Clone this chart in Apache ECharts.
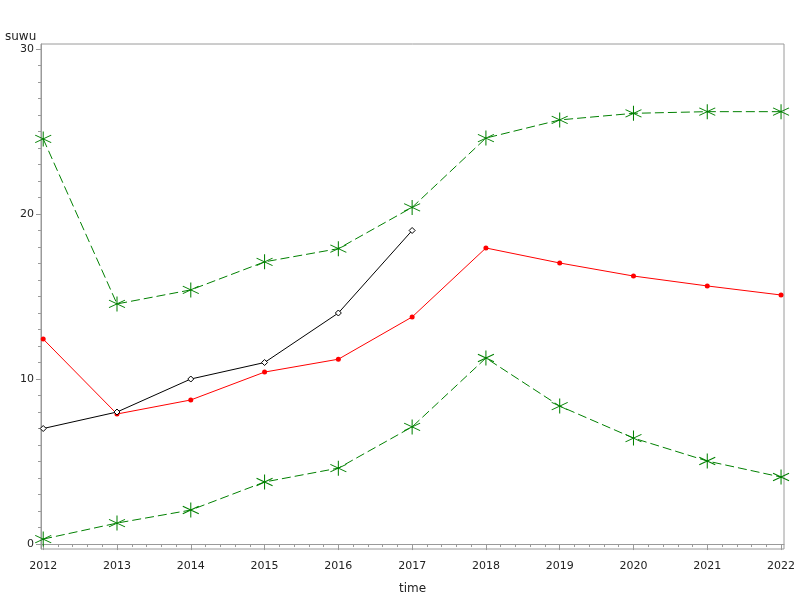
<!DOCTYPE html>
<html><head><meta charset="utf-8">
<script src="https://cdn.jsdelivr.net/npm/echarts@6/dist/echarts.min.js"></script>
<style>html,body{margin:0;padding:0;background:#fff}#c{width:800px;height:600px}</style>
</head><body><div id="c"></div>
<script>
var years = [2012,2013,2014,2015,2016,2017,2018,2019,2020,2021,2022];
var upperBand = [24.55,14.55,15.4,17.1,17.9,20.4,24.6,25.7,26.1,26.2,26.2];
var lowerBand = [0.3,1.27,2.06,3.76,4.6,7.1,11.27,8.36,6.42,5.03,4.06];
var forecast = [12.42,7.88,8.73,10.42,11.2,13.76,17.94,17.03,16.24,15.64,15.09];
var actualYears = [2012,2013,2014,2015,2016,2017];
var actual = [7,8,10,11,14,19];
var yTicks = [0,10,20,30];

function pairs(xs, ys){ return xs.map(function(x,i){ return [x, ys[i]]; }); }
var xMinor = [], yMinor = [];
for (var y = 2012; y < 2022; y++) for (var k = 1; k < 5; k++) xMinor.push(y + k/5);
for (var v = 0; v <= 30; v++) if (v % 10 !== 0) yMinor.push(v);

var axisGray = '#9a9a9a';
var font = 'DejaVu Sans';
var star = 'path://M8,0 L8,16 M0,4 L16,12 M0,12 L16,4';

var chart = echarts.init(document.getElementById('c'));
chart.setOption({
  animation: false,
  grid: {left: 41, right: 16, top: 44, bottom: 51, show: true, borderColor: axisGray, borderWidth: 1},
  xAxis: [
    {type: 'value', min: 2011.97, max: 2022.04, splitLine: {show: false},
     axisLine: {lineStyle: {color: axisGray}},
     axisTick: {customValues: years, length: 6, lineStyle: {color: axisGray}},
     axisLabel: {customValues: years, margin: 12, color: '#222', fontFamily: font, fontSize: 11,
       formatter: function(v){ return String(Math.round(v)); }},
     name: 'time', nameLocation: 'middle', nameGap: 34,
     nameTextStyle: {color: '#222', fontFamily: font, fontSize: 12}},
    {type: 'value', min: 2011.97, max: 2022.04, position: 'bottom', splitLine: {show: false},
     axisLine: {show: false},
     axisTick: {customValues: xMinor, length: 3, lineStyle: {color: axisGray}},
     axisLabel: {show: false}}
  ],
  yAxis: [
    {type: 'value', min: -0.3, max: 30.3, splitLine: {show: false},
     axisLine: {show: true, lineStyle: {color: axisGray}},
     axisTick: {show: true, customValues: yTicks, length: 5, lineStyle: {color: axisGray}},
     axisLabel: {customValues: yTicks, margin: 7, color: '#222', fontFamily: font, fontSize: 11}},
    {type: 'value', min: -0.3, max: 30.3, position: 'left', splitLine: {show: false},
     axisLine: {show: false},
     axisTick: {show: true, customValues: yMinor, length: 3, lineStyle: {color: axisGray}},
     axisLabel: {show: false}}
  ],
  graphic: [{type: 'text', left: 5, top: 31, style: {text: 'suwu', fill: '#222', font: '12px "DejaVu Sans"'}}],
  series: [
    {type: 'line', data: pairs(years, upperBand), symbol: star, symbolSize: [16,15],
     lineStyle: {color: '#008000', width: 1, type: [9,4]},
     itemStyle: {color: 'rgba(0,0,0,0)', borderColor: '#008000', borderWidth: 1}},
    {type: 'line', data: pairs(years, lowerBand), symbol: star, symbolSize: [16,15],
     lineStyle: {color: '#008000', width: 1, type: [9,4]},
     itemStyle: {color: 'rgba(0,0,0,0)', borderColor: '#008000', borderWidth: 1}},
    {type: 'line', data: pairs(years, forecast), symbol: 'circle', symbolSize: 5,
     lineStyle: {color: '#ff0000', width: 1},
     itemStyle: {color: '#ff0000', borderColor: '#ff0000', borderWidth: 0}},
    {type: 'line', data: pairs(actualYears, actual), symbol: 'diamond', symbolSize: 6,
     lineStyle: {color: '#000', width: 1},
     itemStyle: {color: '#fff', borderColor: '#000', borderWidth: 1}}
  ]
});
</script></body></html>
